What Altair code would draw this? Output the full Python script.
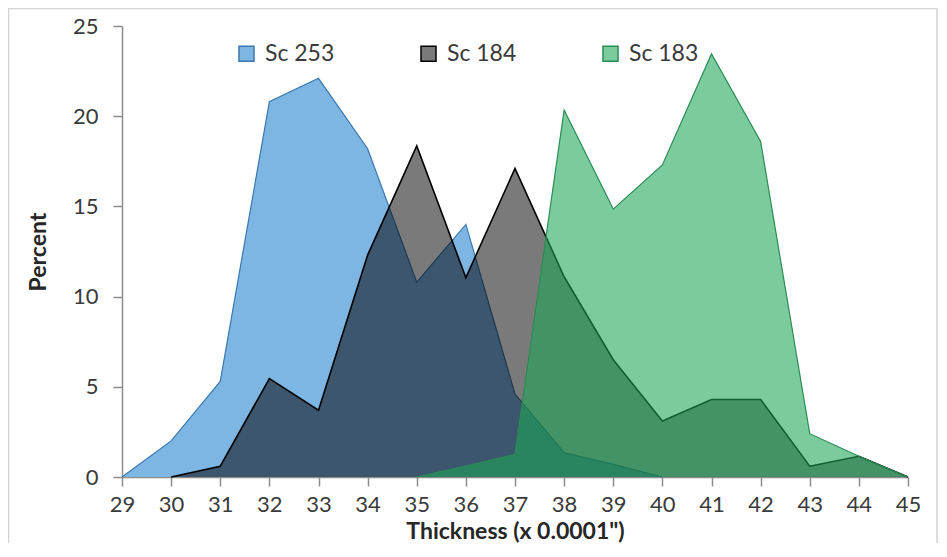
import altair as alt
import pandas as pd

# ---- data ----
series_names = ["Sc 253", "Sc 184", "Sc 183"]

thick_253 = [29, 30, 31, 32, 33, 34, 35, 36, 37, 38, 39, 40]
pct_253 = [0, 2.0, 5.3, 20.8, 22.1, 18.2, 10.8, 14.0, 4.6, 1.35, 0.7, 0]

thick_184 = [30, 31, 32, 33, 34, 35, 36, 37, 38, 39, 40, 41, 42, 43, 44, 45]
pct_184 = [0, 0.6, 5.45, 3.7, 12.3, 18.35, 11.05, 17.1, 11.1, 6.5, 3.1, 4.3, 4.3, 0.6, 1.15, 0]

thick_183 = [35, 36, 37, 38, 39, 40, 41, 42, 43, 44, 45]
pct_183 = [0, 0.6, 1.25, 20.35, 14.85, 17.3, 23.45, 18.6, 2.4, 1.15, 0]

x_ticks = [29, 30, 31, 32, 33, 34, 35, 36, 37, 38, 39, 40, 41, 42, 43, 44, 45]
y_ticks = [0, 5, 10, 15, 20, 25]

fill_colors = ["#7DB5E3", "rgba(0,0,0,0.52)", "rgba(30,166,88,0.58)"]
stroke_colors = ["#3A78B0", "#000000", "#2A8C55"]
stroke_widths = [1.2, 1.6, 1.2]


def make_df(name, xs, ys):
    return pd.DataFrame({"thickness": xs, "percent": ys, "series": name})


frames = [
    make_df(series_names[0], thick_253, pct_253),
    make_df(series_names[1], thick_184, pct_184),
    make_df(series_names[2], thick_183, pct_183),
]

x_enc = alt.X(
    "thickness:Q",
    scale=alt.Scale(domain=[29, 45], nice=False, zero=False),
    axis=alt.Axis(values=x_ticks, title='Thickness (x 0.0001")', format="d",
                  labelFlush=False, labelPadding=8, titleY=61,
                  titleBaseline="alphabetic"),
)
y_enc = alt.Y(
    "percent:Q",
    stack=None,
    scale=alt.Scale(domain=[0, 25], nice=False),
    axis=alt.Axis(values=y_ticks, title="Percent", labelPadding=15,
                  titleX=-77, titleBaseline="alphabetic"),
)
legend = alt.Legend(title=None, orient="none", legendX=113, legendY=16,
                    direction="horizontal")
fill_enc = alt.Fill("series:N",
                    scale=alt.Scale(domain=series_names, range=fill_colors),
                    legend=legend)
stroke_enc = alt.Stroke("series:N",
                        scale=alt.Scale(domain=series_names, range=stroke_colors),
                        legend=legend)

frame_layer = alt.Chart(pd.DataFrame({"k": [0]})).mark_rect(
    filled=False, stroke="#D4D4D4", strokeWidth=1.5
).encode(
    x=alt.value(-113.5), x2=alt.value(815), y=alt.value(-17.5), y2=alt.value(540)
)

layers = [frame_layer]
for df, sw in zip(frames, stroke_widths):
    layers.append(
        alt.Chart(df).mark_area(opacity=1, interpolate="linear").encode(
            x=x_enc, y=y_enc, fill=fill_enc
        )
    )
    layers.append(
        alt.Chart(df).mark_line(strokeWidth=sw, interpolate="linear").encode(
            x=x_enc, y=y_enc, stroke=stroke_enc
        )
    )

chart = alt.layer(*layers).properties(
    width=786,
    height=451,
    padding={"left": 114, "top": 18, "right": 30, "bottom": 66},
    autosize=alt.AutoSizeParams(type="none"),
    background="white",
).configure_view(
    stroke=None
).configure_axis(
    grid=False,
    labelFont="Lato",
    labelFontSize=22,
    labelColor="#3A3A3A",
    titleFont="Lato",
    titleFontSize=23,
    titleFontWeight="bold",
    titleColor="#262626",
    domainColor="#8C8C8C",
    domainWidth=1.5,
    tickColor="#8C8C8C",
    tickWidth=1.5,
    tickSize=9,
).configure_legend(
    labelFont="Lato",
    labelFontSize=23,
    labelColor="#3A3A3A",
    symbolType="square",
    symbolSize=225,
    symbolStrokeWidth=1.5,
    columnPadding=82,
    labelOffset=7,
    padding=0,
)

chart.save("out.html", embed_options={"renderer": "svg", "actions": False})
